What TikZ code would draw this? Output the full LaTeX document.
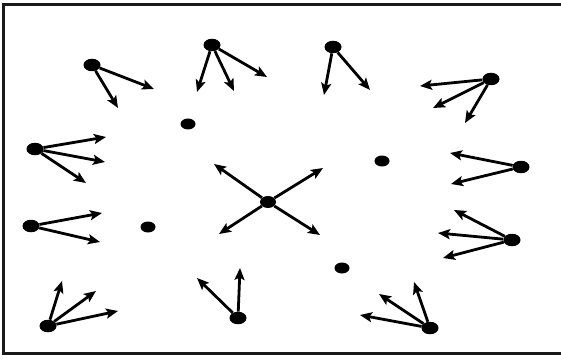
\documentclass[tikz,border=0pt]{standalone}
\usetikzlibrary{arrows.meta,shapes.geometric}
\begin{document}
\begin{tikzpicture}[x=1pt,y=-1pt,
  bigdot/.style={ellipse,fill=black,inner sep=0pt,minimum width=17pt,minimum height=12.5pt},
  smalldot/.style={ellipse,fill=black,inner sep=0pt,minimum width=15pt,minimum height=11pt},
  vec/.style={line width=2.8pt,-{Stealth[length=12pt,width=10pt,inset=2.5pt]}},
  frameline/.style={line width=3.5pt,draw=black!90}]
\useasboundingbox (0,0) rectangle (561,358);
\coordinate (tl) at (3.5,4.5);
\coordinate (tr) at (561,4.5);
\coordinate (bl) at (3.5,353.5);
\coordinate (br) at (561,353.5);
\draw[frameline] (tr) -- (tl) -- (bl) -- (br);
% nodes
\node[bigdot] (A) at (92,65) {};
\node[bigdot] (B) at (212,45) {};
\node[smalldot] (C) at (188,124) {};
\node[bigdot] (D) at (35,149) {};
\node[bigdot] (E) at (31,226) {};
\node[smalldot] (F) at (148,227) {};
\node[bigdot] (G) at (48,326) {};
\node[bigdot] (H) at (238,318) {};
\node[smalldot,minimum width=16pt,minimum height=12pt] (X) at (268,202) {};
\node[bigdot] (I) at (333,47) {};
\node[bigdot] (J) at (491,79) {};
\node[smalldot] (K) at (382,161) {};
\node[bigdot] (L) at (521,167) {};
\node[bigdot] (M) at (512,240) {};
\node[smalldot] (N) at (342,268) {};
\node[bigdot] (O) at (430,328) {};
% arrow tips
\coordinate (a1) at (154,89);
\coordinate (a2) at (118,108);
\coordinate (b1) at (197,92);
\coordinate (b2) at (234,91);
\coordinate (b3) at (267,77);
\coordinate (d1) at (106,137);
\coordinate (d2) at (105,162);
\coordinate (d3) at (86,183);
\coordinate (e1) at (102,213);
\coordinate (e2) at (100,242);
\coordinate (g1) at (62,281);
\coordinate (g2) at (96,291);
\coordinate (g3) at (118,311);
\coordinate (h1) at (240,268);
\coordinate (h2) at (197,278);
\coordinate (x1) at (214,164);
\coordinate (x2) at (323,168);
\coordinate (x3) at (219,234);
\coordinate (x4) at (320,235);
\coordinate (i1) at (324,95);
\coordinate (i2) at (370,90);
\coordinate (j1) at (420,86);
\coordinate (j2) at (433,108);
\coordinate (j3) at (465,123);
\coordinate (l1) at (450,153);
\coordinate (l2) at (451,184);
\coordinate (m1) at (454,210);
\coordinate (m2) at (438,233);
\coordinate (m3) at (443,258);
\coordinate (o1) at (414,282);
\coordinate (o2) at (379,294);
\coordinate (o3) at (360,315);
% arrows
\draw[vec] (A) -- (a1); \draw[vec] (A) -- (a2);
\draw[vec] (B) -- (b1); \draw[vec] (B) -- (b2); \draw[vec] (B) -- (b3);
\draw[vec] (D) -- (d1); \draw[vec] (D) -- (d2); \draw[vec] (D) -- (d3);
\draw[vec] (E) -- (e1); \draw[vec] (E) -- (e2);
\draw[vec] (G) -- (g1); \draw[vec] (G) -- (g2); \draw[vec] (G) -- (g3);
\draw[vec] (H) -- (h1); \draw[vec] (H) -- (h2);
\draw[vec] (X) -- (x1); \draw[vec] (X) -- (x2); \draw[vec] (X) -- (x3); \draw[vec] (X) -- (x4);
\draw[vec] (I) -- (i1); \draw[vec] (I) -- (i2);
\draw[vec] (J) -- (j1); \draw[vec] (J) -- (j2); \draw[vec] (J) -- (j3);
\draw[vec] (L) -- (l1); \draw[vec] (L) -- (l2);
\draw[vec] (M) -- (m1); \draw[vec] (M) -- (m2); \draw[vec] (M) -- (m3);
\draw[vec] (O) -- (o1); \draw[vec] (O) -- (o2); \draw[vec] (O) -- (o3);
\end{tikzpicture}
\end{document}
